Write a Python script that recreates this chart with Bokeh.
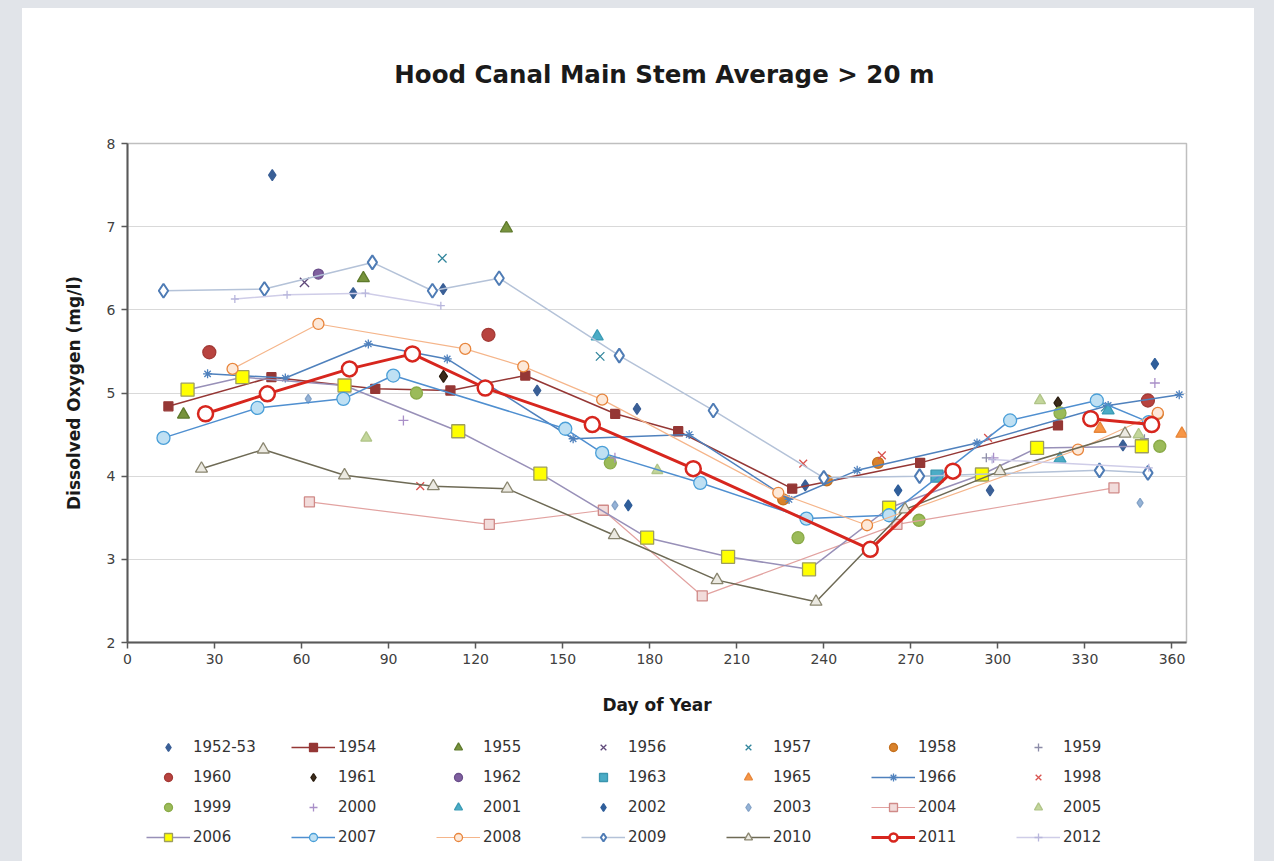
import numpy as np
from bokeh.plotting import figure
from bokeh.models import Legend, LegendItem, FixedTicker, Range1d
from bokeh.core.properties import value
from bokeh.layouts import column
from bokeh.embed import file_html
from bokeh.resources import INLINE

nan = float("nan")

title_text = "Hood Canal Main Stem Average > 20 m"
x_label = "Day of Year"
y_label = "Dissolved Oxygen (mg/l)"
x_ticks = [0, 30, 60, 90, 120, 150, 180, 210, 240, 270, 300, 330, 360]
y_ticks = [2, 3, 4, 5, 6, 7, 8]

# ---- data (day of year, DO mg/l) ----
d1952 = [49.9, 77.8, 108.8, 141.2, 175.6, 233.6, 297.3, 343.1]
v1952 = [7.62, 6.20, 6.25, 5.03, 4.81, 3.89, 3.83, 4.37]
d1954 = [14.1, 49.6, 85.4, 111.3, 137.1, 168.1, 189.8, 229.1, 273.2, 320.7]
v1954 = [4.84, 5.19, 5.05, 5.03, 5.21, 4.75, 4.54, 3.85, 4.16, 4.61]
d1955 = [19.3, 81.3, 130.6]
v1955 = [4.74, 6.38, 6.98]
d1956 = [61.0]
v1956 = [6.33]
d1957 = [108.5, 162.9, 337.0]
v1957 = [6.62, 5.44, 4.83]
d1958 = [226.0, 241.0, 258.7, 355.1]
v1958 = [3.72, 3.95, 4.16, 4.75]
d1959 = [296.0, 350.5]
v1959 = [4.22, 4.45]
d1960 = [28.2, 124.4, 351.7]
v1960 = [5.49, 5.70, 4.91]
d1961 = [108.9, 320.7]
v1961 = [5.20, 4.88]
d1962 = [65.8]
v1962 = [6.43]
d1963 = [279.0]
v1963 = [4.00]
d1965 = [335.2, 363.4]
v1965 = [4.57, 4.51]
d1966 = [27.6, 54.4, 83.0, 110.2, 153.6, 193.6, 228.0, 251.5, 292.8, 338.0, 362.5]
v1966 = [5.23, 5.18, 5.59, 5.41, 4.45, 4.50, 3.72, 4.07, 4.40, 4.85, 4.98]
d1998 = [100.9, 232.9, 260.0, 296.6]
v1998 = [3.88, 4.15, 4.25, 4.46]
d1999 = [99.6, 166.4, 231.1, 272.8, 321.4, 355.8]
v1999 = [5.00, 4.16, 3.26, 3.47, 4.76, 4.36]
d2000 = [95.1, 168.0, 298.5, 354.1]
v2000 = [4.67, 4.22, 4.22, 5.12]
d2001 = [161.9, 321.4, 338.0]
v2001 = [5.68, 4.21, 4.79]
d2002 = [172.6, 265.6, 354.1, 352.0]
v2002 = [3.65, 3.83, 5.35, 4.65]
d2003 = [62.3, 168.0, 240.0, 349.0]
v2003 = [4.93, 3.65, 3.97, 3.68]
d2004 = [62.7, 124.7, 164.0, 198.1, 265.2, 340.0]
v2004 = [3.69, 3.42, 3.59, 2.56, 3.42, 3.86]
d2005 = [82.3, 182.6, 314.5, 348.5]
v2005 = [4.46, 4.07, 4.91, 4.50]
d2006 = [20.7, 39.6, 74.8, 114.0, 142.3, 179.1, 207.0, 234.9, 262.5, 294.5, 313.5, 349.6]
v2006 = [5.04, 5.19, 5.09, 4.54, 4.03, 3.26, 3.03, 2.88, 3.62, 4.02, 4.34, 4.36]
d2007 = [12.4, 44.8, 74.4, 91.6, 150.9, 163.6, 197.4, 234.0, 262.5, 304.2, 334.1, 352.0]
v2007 = [4.46, 4.82, 4.93, 5.21, 4.57, 4.28, 3.92, 3.49, 3.53, 4.67, 4.91, 4.65]
d2008 = [36.2, 65.8, 116.4, 136.4, 163.6, 224.3, 254.9, 327.6, 355.1]
v2008 = [5.29, 5.83, 5.53, 5.32, 4.92, 3.80, 3.41, 4.32, 4.76]
d2009 = [12.4, 47.2, 84.4, 105.1, 128.1, 169.5, 201.9, 240.0, 273.0, 335.0, 351.7]
v2009 = [6.23, 6.25, 6.57, 6.23, 6.38, 5.45, 4.79, 3.98, 4.00, 4.07, 4.04]
d2010 = [25.5, 46.8, 74.8, 105.4, 130.9, 167.8, 203.2, 237.3, 268.0, 300.7, 343.8]
v2010 = [4.09, 4.32, 4.01, 3.88, 3.85, 3.29, 2.75, 2.49, 3.60, 4.06, 4.51]
d2011 = [26.9, 48.2, 76.5, 98.2, 123.3, 160.2, 195.0, 256.0, 284.5, nan, 332.0, 353.0]
v2011 = [4.75, 4.99, 5.29, 5.47, 5.06, 4.62, 4.09, 3.12, 4.06, nan, 4.69, 4.62]
d2012 = [37.0, 55.0, 82.0, 108.0, nan, 298.0, 352.0]
v2012 = [6.13, 6.18, 6.20, 6.05, nan, 4.20, 4.10]

FONT = "DejaVu Sans"

# ---- title strip ----
pt = figure(
    width=1232, height=125, x_range=Range1d(0, 1), y_range=Range1d(0, 1),
    x_axis_type=None, y_axis_type=None,
    output_backend="svg", toolbar_location=None,
    min_border=0, background_fill_color=None, border_fill_color="white",
)
pt.margin = (8, 20, 0, 22)
pt.outline_line_color = None
pt.text(x=[0.507], y=[0.472], text=[title_text], text_font=value(FONT),
        text_font_size="24.5px", text_font_style="bold", text_color="#1a1a1a",
        text_align="center", text_baseline="middle")

# ---- main chart ----
p = figure(
    frame_width=1059, frame_height=499,
    min_border_left=105, min_border_right=68, min_border_top=10, min_border_bottom=80,
    x_range=Range1d(0, 365), y_range=Range1d(2, 8),
    output_backend="svg", toolbar_location=None,
    background_fill_color="white", border_fill_color="white",
)
p.margin = (0, 20, 0, 22)
p.outline_line_color = "#BFBFBF"
p.outline_line_width = 1.5

p.xgrid.visible = False
p.ygrid.grid_line_color = "#D9D9D9"
p.ygrid.grid_line_width = 1

for ax in (p.xaxis[0], p.yaxis[0]):
    ax.axis_line_color = "#595959"
    ax.axis_line_width = 2
    ax.major_tick_line_color = "#595959"
    ax.major_tick_line_width = 1.5
    ax.major_tick_out = 6
    ax.major_tick_in = 0
    ax.minor_tick_line_color = None
    ax.major_label_text_font = FONT
    ax.major_label_text_font_size = "14px"
    ax.major_label_text_color = "#404040"
    ax.axis_label_text_font = FONT
    ax.axis_label_text_font_size = "17px"
    ax.axis_label_text_font_style = "bold"
    ax.axis_label_text_color = "#1a1a1a"

p.xaxis[0].ticker = FixedTicker(ticks=x_ticks)
p.yaxis[0].ticker = FixedTicker(ticks=y_ticks)
p.xaxis[0].axis_label = x_label
p.yaxis[0].axis_label = y_label
p.xaxis[0].major_label_standoff = 5
p.xaxis[0].axis_label_standoff = 28
p.yaxis[0].major_label_standoff = 6
p.yaxis[0].axis_label_standoff = 20

series = [
    ("1952-53", d1952, v1952, dict(marker="diamond", size=11, fill="#3A5F96", line="#3A5F96"), None),
    ("1954", d1954, v1954, dict(marker="square", size=9, fill="#953735", line="#953735"), dict(color="#953735", width=1.5)),
    ("1955", d1955, v1955, dict(marker="triangle", size=12, fill="#77933C", line="#5E7A2C"), None),
    ("1956", d1956, v1956, dict(marker="x", size=13, fill="#5F497A", line="#5F497A"), None),
    ("1957", d1957, v1957, dict(marker="x", size=12, fill="#31859C", line="#31859C"), None),
    ("1958", d1958, v1958, dict(marker="circle", size=11, fill="#D9822B", line="#C4701E"), None),
    ("1959", d1959, v1959, dict(marker="cross", size=9, fill="#8C8CA8", line="#8C8CA8"), None),
    ("1960", d1960, v1960, dict(marker="circle", size=13, fill="#B8433F", line="#A33A36"), None),
    ("1961", d1961, v1961, dict(marker="diamond", size=12, fill="#3B2A1A", line="#2A1D10"), None),
    ("1962", d1962, v1962, dict(marker="circle", size=10, fill="#7F5F9F", line="#6A4E8A"), None),
    ("1963", d1963, v1963, dict(marker="square", size=12, fill="#4BACC6", line="#3A95AE"), None),
    ("1965", d1965, v1965, dict(marker="triangle", size=12, fill="#F79646", line="#E7863A"), None),
    ("1966", d1966, v1966, dict(marker="asterisk", size=9, fill="#4F81BD", line="#4F81BD"), dict(color="#4F81BD", width=1.5)),
    ("1998", d1998, v1998, dict(marker="x", size=11, fill="#D9534F", line="#D9534F"), None),
    ("1999", d1999, v1999, dict(marker="circle", size=12, fill="#9BBB59", line="#8AAA48"), None),
    ("2000", d2000, v2000, dict(marker="cross", size=10, fill="#A98FC8", line="#A98FC8"), None),
    ("2001", d2001, v2001, dict(marker="triangle", size=12, fill="#4BACC6", line="#3A9BB5"), None),
    ("2002", d2002, v2002, dict(marker="diamond", size=11, fill="#2F5E9A", line="#2F5E9A"), None),
    ("2003", d2003, v2003, dict(marker="diamond", size=9, fill="#95B3D7", line="#85A3C7"), None),
    ("2004", d2004, v2004, dict(marker="square", size=10, fill="#F2DCDB", line="#D08A88"), dict(color="#E2A2A0", width=1.2)),
    ("2005", d2005, v2005, dict(marker="triangle", size=11, fill="#C3D69B", line="#B0C488"), None),
    ("2006", d2006, v2006, dict(marker="square", size=13, fill="#FFFF00", line="#9E9E5E"), dict(color="#9890B8", width=1.5)),
    ("2007", d2007, v2007, dict(marker="circle", size=13, fill="#BFE0F3", line="#4A9FD8"), dict(color="#4F8FD0", width=1.5)),
    ("2008", d2008, v2008, dict(marker="circle", size=11, fill="#FDE9D9", line="#E8853C"), dict(color="#F5B58A", width=1.2)),
    ("2009", d2009, v2009, dict(marker="diamond", size=14, fill="white", line="#4F7CB5"), dict(color="#B4C2D8", width=1.5)),
    ("2010", d2010, v2010, dict(marker="triangle", size=12, fill="#ECEAE2", line="#8A8670"), dict(color="#6E6A55", width=1.5)),
    ("2011", d2011, v2011, dict(marker="circle", size=15, fill="white", line="#D7261E"), dict(color="#D7261E", width=3)),
    ("2012", d2012, v2012, dict(marker="cross", size=8, fill="#C4C2E2", line="#B8B6DC"), dict(color="#CFCDE8", width=1.5)),
]

# ---- legend strip ----
pl = figure(
    width=1232, height=139, x_range=Range1d(0, 1), y_range=Range1d(0, 1),
    x_axis_type=None, y_axis_type=None,
    output_backend="svg", toolbar_location=None,
    min_border=0, background_fill_color=None, border_fill_color="white",
)
pl.margin = (0, 20, 0, 22)
pl.outline_line_color = None

items = []
for name, xs, ys, m, ln in series:
    xs = np.array(xs, dtype=float)
    ys = np.array(ys, dtype=float)
    lw = 2.5 if name == "2011" else (2 if name == "2009" else 1.3)
    if ln is not None:
        p.line(xs, ys, line_color=ln["color"], line_width=ln["width"])
    p.scatter(xs, ys, marker=m["marker"], size=m["size"],
              fill_color=m["fill"], line_color=m["line"], line_width=lw)
    # legend proxies (no data inside the strip's view)
    rends = []
    if ln is not None:
        rends.append(pl.line([nan], [nan], line_color=ln["color"], line_width=ln["width"]))
    rends.append(pl.scatter([nan], [nan], marker=m["marker"], size=m["size"],
                            fill_color=m["fill"], line_color=m["line"], line_width=lw))
    items.append(LegendItem(label=name, renderers=rends))

legend = Legend(items=items, ncols=7, orientation="horizontal", location=(19, 14),
                glyph_width=44, glyph_height=20, label_height=20, label_width=88, label_standoff=3,
                spacing=10, padding=0, margin=0,
                border_line_color=None, background_fill_alpha=0,
                label_text_font=FONT, label_text_font_size="15px", label_text_color="#333333")
pl.add_layout(legend, "center")

page = column(pt, p, pl, styles={
    "background": "linear-gradient(#E1E4E9 8px, rgba(0,0,0,0) 8px), "
                  "linear-gradient(to right, #E1E4E9 22px, #FFFFFF 22px, #FFFFFF 1254px, #E1E4E9 1254px)"
})

open("out.html", "w").write(file_html(page, INLINE))
